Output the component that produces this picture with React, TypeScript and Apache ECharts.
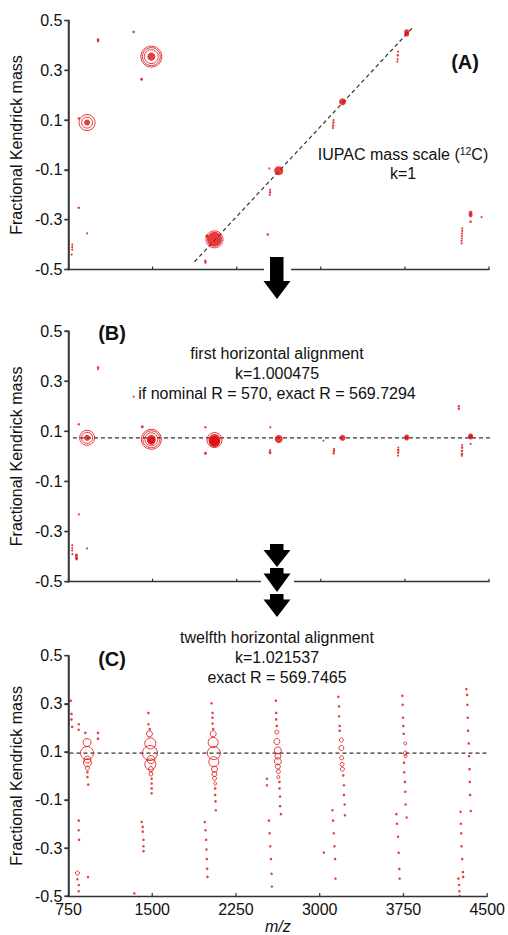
import React, { useEffect, useRef } from 'react';
import * as echarts from 'echarts';

const RED = '#dd0a0a';
const AXIS = '#333333';
const INK = '#111111';
const FONT = 'Liberation Sans, Arial, Helvetica, sans-serif';

const X_MIN = 750;
const X_MAX = 4500;
const X_STEP = 750;
const Y_MIN = -0.5;
const Y_MAX = 0.5;
const Y_STEP = 0.2;
const X_TICKS = [750, 1500, 2250, 3000, 3750, 4500];
const Y_TICKS = [-0.5, -0.3, -0.1, 0.1, 0.3, 0.5];
const X_NAME = 'm/z';
const Y_NAME = 'Fractional Kendrick mass';

const aDots = [
  [916, 0.09, 6], [1489, 0.355, 8], [2052, -0.379, 15], [2625, -0.103, 9], [3194, 0.174, 7],
  [3766, 0.455, 5], [3766, 0.445, 5],
  [1014, 0.424, 2.5], [1014, 0.418, 2.5], [1331, 0.454, 2.5], [1402, 0.264, 3], [842, -0.252, 2.5],
  [916, -0.355, 2], [783, -0.4, 2], [783, -0.41, 2], [783, -0.42, 2], [778, -0.44, 2], [842, 0.107, 2.5],
  [1971, -0.465, 2.5], [1971, -0.472, 2.5], [1984, -0.366, 3], [2527, -0.359, 2.5], [2547, -0.18, 2],
  [2547, -0.19, 2.5], [2545, -0.2, 2], [2541, -0.094, 2], [3114, 0.1, 2], [3112, 0.09, 2.5],
  [3110, 0.078, 2.5], [3108, 0.068, 2], [3689, 0.375, 2], [3687, 0.36, 2.5], [3685, 0.345, 2],
  [3683, 0.335, 2], [4336, -0.272, 4], [4336, -0.282, 4], [4336, -0.308, 2.5], [4433, -0.29, 2],
  [4261, -0.335, 2], [4261, -0.345, 2], [4259, -0.355, 2], [4258, -0.365, 2], [4257, -0.375, 2],
  [4256, -0.385, 2], [4256, -0.395, 2],
];
const aRings = [
  [916, 0.09, 16], [916, 0.09, 11], [1489, 0.355, 21], [1489, 0.355, 18], [1489, 0.355, 14],
  [2052, -0.379, 17],
];
const aLine = [[1874, -0.469], [3822, 0.473]];

const bDots = [
  [916, 0.074, 6], [1489, 0.068, 9], [1489, 0.062, 8], [2052, 0.065, 12], [2052, 0.058, 11],
  [2625, 0.069, 8], [3194, 0.074, 6], [3766, 0.078, 4.5], [3766, 0.072, 4.5], [4336, 0.082, 5],
  [4336, 0.076, 4.5],
  [842, 0.128, 2.5], [1014, 0.355, 2.5], [1014, 0.348, 2], [1331, 0.238, 2], [1408, 0.118, 3],
  [1971, 0.116, 2.5], [1971, 0.012, 3], [2550, 0.116, 2], [2548, 0.025, 2], [2547, 0.015, 3],
  [3024, 0.063, 2], [3119, 0.03, 2], [3117, 0.022, 2.5], [3115, 0.012, 2.5], [3692, 0.035, 2],
  [3691, 0.025, 2.5], [3690, 0.015, 2.5], [3689, 0.003, 2], [4231, 0.2, 2.5], [4231, 0.19, 2.5],
  [4261, 0.045, 2], [4260, 0.035, 2.5], [4259, 0.022, 2.5], [4258, 0.01, 2.5], [4258, 0.002, 2],
  [4336, 0.05, 2], [842, -0.231, 2], [916, -0.367, 2], [783, -0.354, 2], [783, -0.365, 2],
  [783, -0.375, 2], [785, -0.39, 2], [821, -0.394, 3], [821, -0.404, 3], [823, -0.41, 2.5],
];
const bRings = [
  [916, 0.074, 15], [916, 0.074, 11], [1489, 0.068, 20], [1489, 0.068, 17], [1489, 0.068, 13],
  [2052, 0.065, 15],
];
const bLine = [[790, 0.074], [4590, 0.074]];

const cRings = [
  [916, 0.095, 13], [916, 0.139, 8], [920, 0.068, 7], [920, 0.055, 8], [920, 0.032, 4], [830, -0.404, 4],
  [1480, 0.095, 15], [1483, 0.135, 11], [1483, 0.048, 11], [1489, 0.068, 8], [1475, 0.175, 6],
  [1489, 0.028, 5], [1489, 0.008, 4],
  [2052, 0.095, 13], [2046, 0.139, 10], [2052, 0.059, 10], [2046, 0.175, 6], [2058, 0.028, 6],
  [2058, 0.008, 5], [2058, -0.01, 4], [2064, -0.032, 3],
  [2625, 0.106, 7], [2616, 0.143, 6], [2625, 0.061, 7], [2625, 0.082, 6], [2616, 0.182, 4],
  [2625, 0.039, 5], [2630, 0.018, 4], [2630, -0.005, 3],
  [3194, 0.116, 5], [3194, 0.149, 4], [3197, 0.075, 4], [3200, 0.048, 4], [3203, 0.028, 4],
  [3766, 0.095, 4], [3766, 0.135, 3], [3769, 0.082, 3],
];
const cDots = [
  [770, 0.313], [777, 0.258], [777, 0.235], [783, 0.204], [842, 0.215], [842, 0.192], [901, 0.179],
  [1014, 0.179], [1014, 0.155], [920, 0.015], [920, -0.005], [927, -0.036], [842, -0.186],
  [842, -0.226], [845, -0.266], [830, -0.43], [842, -0.454], [842, -0.48], [925, -0.421], [1340, -0.489],
  [1466, 0.262], [1466, 0.215], [1478, 0.195], [1495, -0.012], [1495, -0.032], [1495, -0.052],
  [1495, -0.072], [1406, -0.192], [1415, -0.212], [1415, -0.232], [1422, -0.266], [1422, -0.293],
  [1422, -0.313],
  [2031, 0.302], [2040, 0.262], [2040, 0.242], [2040, 0.218], [2046, 0.195], [2064, -0.052],
  [2064, -0.079], [2067, -0.106], [2070, -0.143], [1971, -0.192], [1977, -0.226], [1983, -0.266],
  [1986, -0.306], [1989, -0.346], [1992, -0.386], [1995, -0.42],
  [2607, 0.313], [2610, 0.262], [2610, 0.235], [2616, 0.208], [2640, -0.025], [2640, -0.052],
  [2645, -0.086], [2645, -0.126], [2652, -0.159], [2527, -0.012], [2527, -0.039], [2545, -0.186],
  [2551, -0.239], [2557, -0.293], [2563, -0.346], [2569, -0.407], [2572, -0.46],
  [3167, 0.329], [3173, 0.289], [3173, 0.248], [3179, 0.208], [3179, 0.188], [3211, 0.002],
  [3217, -0.039], [3217, -0.079], [3223, -0.119], [3226, -0.164], [3114, -0.143], [3120, -0.186],
  [3126, -0.239], [3132, -0.293], [3138, -0.346], [3141, -0.427], [3037, -0.319],
  [3740, 0.333], [3743, 0.296], [3746, 0.242], [3749, 0.208], [3752, 0.175], [3755, 0.055],
  [3757, 0.015], [3763, -0.025], [3766, -0.066], [3769, -0.119], [3778, -0.173], [3686, -0.159],
  [3692, -0.199], [3701, -0.253], [3707, -0.32], [3713, -0.387], [3716, -0.427],
  [4314, 0.361], [4320, 0.337], [4323, 0.296], [4326, 0.242], [4329, 0.188], [4335, 0.135],
  [4338, 0.082], [4341, 0.028], [4344, -0.025], [4347, -0.079], [4353, -0.146], [4261, -0.149],
  [4264, -0.199], [4267, -0.239], [4270, -0.293], [4276, -0.346], [4282, -0.4], [4285, -0.42],
  [4242, -0.427], [4248, -0.454], [4251, -0.48], [4254, -0.5],
];
const cLine = [[759, 0.095], [4540, 0.095]];

const PANEL_LABELS = ['(A)', '(B)', '(C)'];
const A_NOTE = ['IUPAC mass scale ({s|12}C)', 'k=1'];
const B_NOTE = ['first horizontal alignment', 'k=1.000475', 'if nominal R = 570, exact R = 569.7294'];
const C_NOTE = ['twelfth horizontal alignment', 'k=1.021537', 'exact R = 569.7465'];

const GRIDS = [
  { left: 66, top: 20.5, width: 423, height: 249 },
  { left: 66, top: 331, width: 423, height: 250.7 },
  { left: 66, top: 655.7, width: 423, height: 249.3 },
];

function ringSeries(data: number[][], i: number) {
  return {
    type: 'scatter', xAxisIndex: i, yAxisIndex: i, data, z: 4,
    symbol: 'circle', symbolSize: (d: number[]) => d[2],
    itemStyle: { color: 'rgba(0,0,0,0)', borderColor: RED, borderWidth: 1 },
  };
}
function dotSeries(data: number[][], i: number) {
  return {
    type: 'scatter', xAxisIndex: i, yAxisIndex: i, data, z: 5,
    symbol: 'circle', symbolSize: (d: number[]) => (d[2] != null ? d[2] : 2.5),
    itemStyle: { color: RED },
  };
}
function lineSeries(data: number[][], i: number) {
  return {
    type: 'line', xAxisIndex: i, yAxisIndex: i, data, z: 3, clip: false,
    symbol: 'none', silent: true,
    lineStyle: { color: '#333', width: 1.2, type: [4, 3] },
  };
}

function arrow(top: number, headY: number, tipY: number) {
  return {
    type: 'polygon', z: 101,
    shape: { points: [[270, top], [283.5, top], [283.5, headY], [290.5, headY], [277, tipY], [263.5, headY], [270, headY]] },
    style: { fill: '#000' },
  };
}

function noteLines(lines: string[], cx: number, y0: number, step: number) {
  return lines.map((t, k) => ({
    type: 'text', z: 100, x: cx, y: y0 + k * step,
    style: {
      text: t, fill: INK, fontSize: 16, fontFamily: FONT, align: 'center', verticalAlign: 'middle',
      rich: { s: { fontSize: 10.5, fontFamily: FONT, verticalAlign: 'top', fill: INK, padding: [0, 0, 6, 0] } },
    },
  }));
}

export default function App() {
  const ref = useRef<HTMLDivElement>(null);
  useEffect(() => {
    const chart = echarts.init(ref.current!, null, { renderer: 'svg' });
    const xAxis = GRIDS.map((_, i) => ({
      type: 'value', gridIndex: i, min: X_MIN, max: X_MAX, interval: X_STEP,
      splitLine: { show: false },
      axisLine: { show: true, onZero: false, lineStyle: { color: AXIS, width: 1.3 } },
      axisTick: { show: false },
      axisLabel: {
        show: i === 2, color: INK, fontSize: 16, fontFamily: FONT, margin: 5,
        formatter: (v: number) => String(v),
      },
      name: i === 2 ? X_NAME : '', nameLocation: 'middle', nameGap: 21,
      nameTextStyle: { fontStyle: 'italic', fontSize: 16, fontFamily: FONT, color: INK },
    }));
    const yAxis = GRIDS.map((_, i) => ({
      type: 'value', gridIndex: i, min: Y_MIN, max: Y_MAX, interval: Y_STEP,
      splitLine: { show: false },
      axisLine: { show: true, onZero: false, lineStyle: { color: AXIS, width: 1.5 } },
      axisTick: { show: true, length: 4, lineStyle: { color: AXIS, width: 1.3 } },
      axisLabel: { color: INK, fontSize: 16, fontFamily: FONT, margin: 6, formatter: (v: number) => v.toFixed(1) },
      name: Y_NAME, nameLocation: 'middle', nameGap: 36,
      nameTextStyle: { fontSize: 16, fontFamily: FONT, color: INK },
    }));
    const baseGraphic: any[] = [
      { type: 'text', z: 100, x: 465, y: 62, style: { text: PANEL_LABELS[0], fill: INK, fontSize: 20, fontWeight: 'bold', fontFamily: FONT, align: 'center', verticalAlign: 'middle' } },
      { type: 'text', z: 100, x: 112, y: 333, style: { text: PANEL_LABELS[1], fill: INK, fontSize: 20, fontWeight: 'bold', fontFamily: FONT, align: 'center', verticalAlign: 'middle' } },
      { type: 'text', z: 100, x: 112, y: 659, style: { text: PANEL_LABELS[2], fill: INK, fontSize: 20, fontWeight: 'bold', fontFamily: FONT, align: 'center', verticalAlign: 'middle' } },
      ...noteLines(A_NOTE, 403, 154, 19),
      ...noteLines(B_NOTE, 277, 353.3, 20),
      ...noteLines(C_NOTE, 277, 637.7, 20),
    ];
    const option = {
      animation: false,
      grid: GRIDS,
      xAxis, yAxis,
      series: [
        lineSeries(aLine, 0), ringSeries(aRings, 0), dotSeries(aDots, 0),
        lineSeries(bLine, 1), ringSeries(bRings, 1), dotSeries(bDots, 1),
        lineSeries(cLine, 2), ringSeries(cRings, 2), dotSeries(cDots, 2),
      ],
    };
    chart.setOption(option as any);

    // axis spines and ticks, positioned through the library's own scales
    const axisStyle = { stroke: AXIS, lineWidth: 1.4 };
    const axisMarks: any[] = [];
    GRIDS.forEach((_, i) => {
      const px = (v: number[]) => chart.convertToPixel({ gridIndex: i }, v) as number[];
      const b = px([X_MIN, Y_MIN]);
      const t = px([X_MIN, Y_MAX]);
      axisMarks.push({ type: 'line', z: 200, shape: { x1: b[0], y1: b[1] + 0.7, x2: t[0], y2: t[1] }, style: axisStyle });
      Y_TICKS.forEach((v) => {
        const p = px([X_MIN, v]);
        axisMarks.push({ type: 'line', z: 200, shape: { x1: p[0] - 4, y1: p[1], x2: p[0], y2: p[1] }, style: axisStyle });
      });
      X_TICKS.forEach((v) => {
        const p = px([v, Y_MIN]);
        axisMarks.push({ type: 'line', z: 200, shape: { x1: p[0], y1: p[1], x2: p[0], y2: p[1] - 3 }, style: { stroke: AXIS, lineWidth: 1.2 } });
      });
    });

    const cover: any[] = [
      { type: 'rect', z: 250, shape: { x: 264, y: 265, width: 27, height: 9 }, style: { fill: '#fff' } },
      { type: 'rect', z: 250, shape: { x: 261, y: 577, width: 33, height: 9 }, style: { fill: '#fff' } },
      { ...arrow(257, 281, 299), z: 260 },
      { ...arrow(544, 550, 567), z: 260 },
      { ...arrow(568, 573.5, 592), z: 260 },
      { ...arrow(594, 599.5, 617), z: 260 },
    ];
    chart.setOption({ graphic: [...baseGraphic, ...axisMarks, ...cover] } as any);
    return () => chart.dispose();
  }, []);
  return (
    <div
      ref={ref}
      style={{ position: 'fixed', left: 0, top: 0, width: 508, height: 935, background: '#fff' }}
    />
  );
}
